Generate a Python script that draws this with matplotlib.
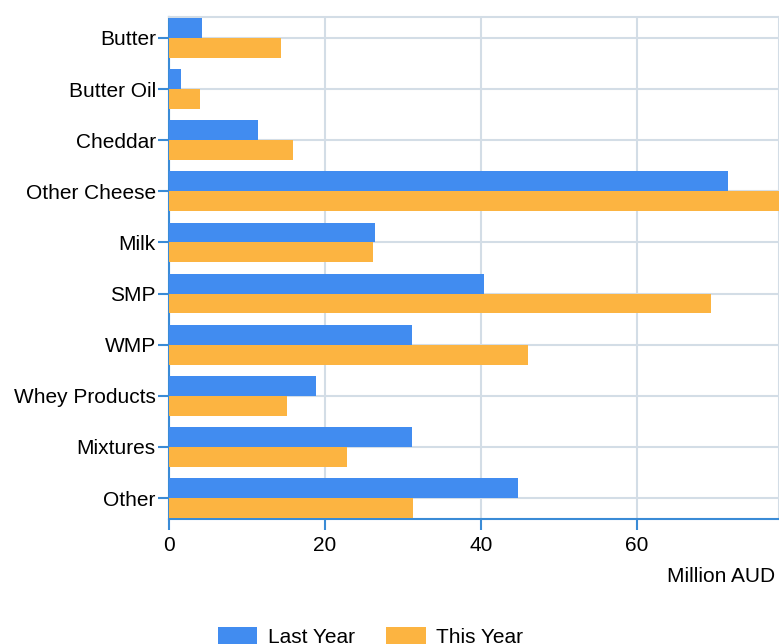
import matplotlib.pyplot as plt
import numpy as np

# data (million AUD)
categories = ["Butter", "Butter Oil", "Cheddar", "Other Cheese", "Milk",
              "SMP", "WMP", "Whey Products", "Mixtures", "Other"]
last_year = [4.2, 1.5, 11.4, 71.7, 26.4, 40.4, 31.2, 18.8, 31.2, 44.8]
this_year = [14.4, 4.0, 15.9, 80.0, 26.2, 69.5, 46.0, 15.1, 22.8, 31.3]
x_ticks = [0, 20, 40, 60]

blue = "#418CF0"
orange = "#FCB441"
axis_blue = "#3A8BD6"
grid_col = "#D3DDE6"

plt.rcParams["font.family"] = ["Liberation Sans", "DejaVu Sans"]

fig = plt.figure(figsize=(7.79, 6.44), dpi=100)
ax = fig.add_axes([169 / 779, 1 - 519 / 644, 1 - 169 / 779, (519 - 17) / 644])

y = np.arange(len(categories))
h = 0.39
ax.barh(y - h / 2, last_year, height=h, color=blue, label="Last Year", zorder=3)
ax.barh(y + h / 2, this_year, height=h, color=orange, label="This Year", zorder=3)

ax.set_xlim(0, 78.2)
ax.set_ylim(len(categories) - 1 + 0.41, -0.41)
ax.set_yticks(y)
ax.set_yticklabels(categories)
ax.set_xticks(x_ticks)

ax.grid(True, color=grid_col, linewidth=1.5, zorder=0)
ax.set_axisbelow(True)

for side in ["top", "right"]:
    ax.spines[side].set_color(grid_col)
    ax.spines[side].set_linewidth(1.5)
for side in ["left", "bottom"]:
    ax.spines[side].set_color(axis_blue)
    ax.spines[side].set_linewidth(1.5)

ax.tick_params(axis="both", colors=axis_blue, length=8, width=1.5,
               labelsize=15, labelcolor="black")
ax.tick_params(axis="y", pad=1.5)
ax.tick_params(axis="x", pad=4)

fig.text(775 / 779, 1 - 576 / 644, "Million AUD", ha="right", va="center",
         fontsize=15)

fig.legend(loc="center left", bbox_to_anchor=(199 / 779, 1 - 637 / 644),
           ncol=2, frameon=False, fontsize=15, handlelength=1.9,
           handleheight=1.0, columnspacing=1.5, handletextpad=0.5)

fig.savefig("out.png", dpi=100)
